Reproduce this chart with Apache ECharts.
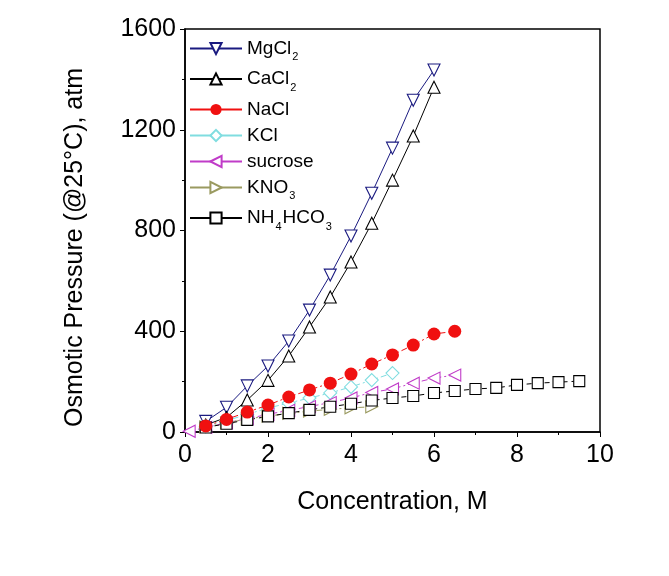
<!DOCTYPE html>
<html><head><meta charset="utf-8">
<script src="https://cdn.jsdelivr.net/npm/echarts@6/dist/echarts.min.js"></script>
<style>html,body{margin:0;padding:0;background:#fff}#c{width:669px;height:576px}</style>
</head><body><div id="c"></div>
<script>
const xMg = [0.5,1,1.5,2,2.5,3,3.5,4,4.5,5,5.5,6];
const mgcl2 = [42,98,183,262,361,484,623,778,948,1127,1317,1437];
const cacl2 = [28,58,127,205,302,417,536,675,829,1000,1175,1369];
const xNa = [0.5,1,1.5,2,2.5,3,3.5,4,4.5,5,5.5,6,6.5];
const nacl = [24,50,79,107,139,167,194,230,270,306,345,389,400];
const xK = [0.5,1,1.5,2,2.5,3,3.5,4,4.5,5];
const kcl = [22,45,70,95,115,135,155,179,206,234];
const xSuc = [0.1,0.5,1,1.5,2,2.5,3,3.5,4,4.5,5,5.5,6,6.5];
const sucrose = [3,18,36,53,70,86,101,117,135,157,171,194,214,226];
const xKNO3 = [0.5,1,1.5,2,2.5,3,3.5,4,4.5];
const kno3 = [20,36,52,63,74,83,90,96,100];
const xNH = [0.5,1,1.5,2,2.5,3,3.5,4,4.5,5,5.5,6,6.5,7,7.5,8,8.5,9,9.5];
const nh4hco3 = [18,33,48,62,75,88,100,112,125,135,143,155,163,171,175,187,194,198,202];
const names = ['MgCl2','CaCl2','NaCl','KCl','sucrose','KNO3','NH4HCO3'];

const chart = echarts.init(document.getElementById('c'));
const pair = (xs, ys) => xs.map((x,i)=>[x, ys[i]]);
function ser(name, xs, ys, color, symbol, rot, dash, filled, size){
  return {
    name, type:'line', data: pair(xs,ys), symbol, symbolSize: size, symbolRotate: rot,
    lineStyle:{color, width: 1, type: dash},
    itemStyle:{color: filled?color:'#fff', borderColor: color, borderWidth: filled?0:1.1},
    z: filled?3:2
  };
}
const font = 'Liberation Sans, Arial, sans-serif';
chart.setOption({
  animation:false,
  backgroundColor:'#fff',
  grid:{left:185, right:69, top:29, bottom:144, show:true, borderColor:'#000', borderWidth:1.5, backgroundColor:'transparent'},
  legend:{
    orient:'vertical', left:184, top:34, itemGap:7, itemWidth:52, itemHeight:14,
    data: names,
    lineStyle:{type:'solid'},
    formatter: n => ({MgCl2:'MgCl{s|2}',CaCl2:'CaCl{s|2}',KNO3:'KNO{s|3}',NH4HCO3:'NH{s|4}HCO{s|3}'}[n] || n),
    textStyle:{fontFamily:font, fontSize:19, color:'#000',
      rich:{s:{fontFamily:font, fontSize:11, color:'#000', padding:[17,1,0,1]}}}
  },
  xAxis:{
    type:'value', min:0, max:10, interval:2,
    name:'Concentration, M', nameLocation:'middle', nameGap:58,
    nameTextStyle:{fontFamily:font, fontSize:25, color:'#000'},
    axisLine:{lineStyle:{color:'#000', width:1.5}},
    axisTick:{length:5, lineStyle:{color:'#000'}},
    minorTick:{show:true, splitNumber:2, length:3, lineStyle:{color:'#000'}},
    axisLabel:{fontFamily:font, fontSize:25, color:'#000', margin:11},
    splitLine:{show:false}
  },
  yAxis:{
    type:'value', min:0, max:1600, interval:400,
    name:'Osmotic Pressure (@25°C), atm', nameLocation:'middle', nameGap:97, nameRotate:90,
    nameTextStyle:{fontFamily:font, fontSize:25, color:'#000', padding:[0,34,0,0]},
    axisLine:{show:true, lineStyle:{color:'#000', width:1.5}},
    axisTick:{show:true, length:5, lineStyle:{color:'#000'}},
    minorTick:{show:true, splitNumber:2, length:3, lineStyle:{color:'#000'}},
    axisLabel:{fontFamily:font, fontSize:25, color:'#000', margin:9, formatter: v => String(v)},
    splitLine:{show:false}
  },
  series:[
    ser('MgCl2', xMg, mgcl2, '#1a1a80', 'triangle', 180, 'solid', false, 12),
    ser('CaCl2', xMg, cacl2, '#000000', 'triangle', 0, 'solid', false, 12),
    ser('NaCl', xNa, nacl, '#f01010', 'circle', 0, [6,3,2,3], true, 13),
    ser('KCl', xK, kcl, '#80dde0', 'diamond', 0, [6,3,2,3], false, 13),
    ser('sucrose', xSuc, sucrose, '#c03cc8', 'triangle', 90, [6,3,2,3], false, 12),
    ser('KNO3', xKNO3, kno3, '#9a9a60', 'triangle', -90, [6,3,2,3], false, 12),
    ser('NH4HCO3', xNH, nh4hco3, '#000000', 'rect', 0, [5,4], false, 11)
  ]
});
</script></body></html>
